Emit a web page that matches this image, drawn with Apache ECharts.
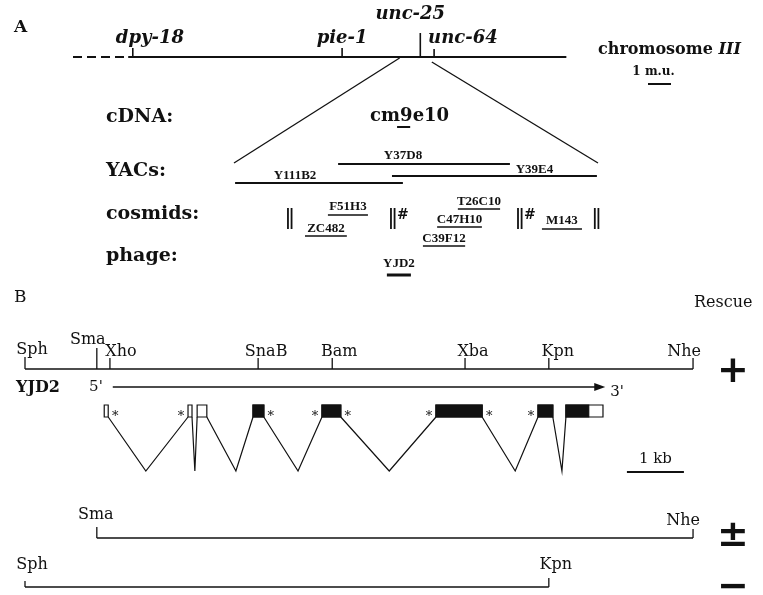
<!DOCTYPE html>
<html>
<head>
<meta charset="utf-8">
<title>unc-25 map and rescue</title>
<script src="https://cdn.jsdelivr.net/npm/echarts@6.0.0/dist/echarts.min.js"></script>
<style>
html,body{margin:0;padding:0;background:#fff;}
#chart{width:763px;height:595px;}
</style>
</head>
<body>
<div id="chart"></div>
<script>
// ================= DATA =================
// Panel A - genetic map of chromosome III (map units)
const geneNames   = ['dpy-18', 'pie-1', 'unc-25', 'unc-64'];
const genePos     = [2.6, 11.7, 15.1, 15.7];
const chromDashed = [0, 2.4];
const chromSolid  = [2.4, 21.45];
const zoomRegion  = [14.2, 15.6];
const muScaleLen  = [1];

// Panel A - physical contig (relative units 0-100 across the expanded interval)
const cdnaNames   = ['cm9e10'];
const cdnaStart   = [44.8];
const cdnaEnd     = [48.4];
const yacNames    = ['Y37D8', 'Y39E4', 'Y111B2'];
const yacStart    = [28.6, 43.4, 0.3];
const yacEnd      = [75.8, 99.7, 46.4];
const cosmidNames = ['F51H3', 'ZC482', 'T26C10', 'C47H10', 'C39F12', 'M143'];
const cosmidStart = [25.8, 19.5, 61.5, 55.8, 51.9, 84.6];
const cosmidEnd   = [36.8, 31.0, 73.1, 68.1, 63.5, 95.6];
const gapPos      = [15.4, 43.7, 78.6, 99.7];
const gapHash     = [false, true, true, false];
const phageNames  = ['YJD2'];
const phageStart  = [42.0];
const phageEnd    = [48.6];
const rowLabels   = ['cDNA:', 'YACs:', 'cosmids:', 'phage:'];

// Panel B - restriction map of phage YJD2 (kb from the Sph site)
const siteNames   = ['Sph', 'Sma', 'Xho', 'SnaB', 'Bam', 'Xba', 'Kpn', 'Nhe'];
const sitePos     = [0, 1.26, 1.49, 4.09, 5.39, 7.72, 9.19, 11.72];
const transcript  = [1.54, 10.18];
const exonStart   = [1.39, 2.86, 3.02, 4.00, 5.21, 7.21, 9.00, 9.49];
const exonEnd     = [1.46, 2.93, 3.19, 4.19, 5.54, 8.02, 9.26, 10.14];
const cdsRange    = [4.00, 9.89];
const intronApex  = [2.12, 2.98, 3.70, 4.79, 6.39, 8.60, 9.42];
const starExon    = [0, 1, 3, 4, 4, 5, 5, 6];
const starSide    = ['R', 'L', 'R', 'L', 'R', 'L', 'R', 'L'];
const kbScaleLen  = [1];
const constructFrom = ['Sph', 'Sma', 'Sph'];
const constructTo   = ['Nhe', 'Nhe', 'Kpn'];
const rescueResult  = ['+', '\u00B1', '\u2212'];

// ================= LAYOUT / STYLE =================
const INK = '#111';
const SERIF = '"DejaVu Serif", "Liberation Serif", serif';
const F = {
  panelA: 'bold 17px ' + SERIF,
  panelB: '17px ' + SERIF,
  gene:   'italic bold 18px ' + SERIF,
  row:    'bold 19px ' + SERIF,
  cdna:   'bold 18px ' + SERIF,
  small:  'bold 13px "Liberation Serif", serif',
  hash:   'bold 14px ' + SERIF,
  chrom:  'bold 16px ' + SERIF,
  chromI: 'italic bold 16px ' + SERIF,
  mu:     'bold 12px ' + SERIF,
  site:   '16px ' + SERIF,
  yjd:    'bold 16px ' + SERIF,
  prime:  '15px ' + SERIF,
  star:   '13px ' + SERIF,
  rescue: '16px ' + SERIF,
  sym:    'bold 38px "DejaVu Sans", sans-serif'
};
const L = {
  chromY: 57,
  gene: {
    'dpy-18': {top: 48, align: 'left',   dx: -17, ly: 38},
    'pie-1':  {top: 48, align: 'center', dx: 0,   ly: 38},
    'unc-25': {top: 33, align: 'center', dx: -10, ly: 14},
    'unc-64': {top: 49, align: 'left',   dx: -6,  ly: 38}
  },
  zoomTopY: [58, 62], zoomBottomY: 163,
  muBarAt: 25, muBarY: 84, muLabelY: 72, muLabelDx: -6,
  cdnaY: 127, cdnaLabelY: 116, cdnaLabelDx: 6,
  yac: {'Y37D8': [164, 156, -21], 'Y39E4': [176, 170, 40], 'Y111B2': [183, 176, -24]},
  cosmid: {F51H3: [215, 207], ZC482: [236, 229], T26C10: [209, 202], C47H10: [227, 220], C39F12: [246, 239], M143: [229, 221]},
  gapTop: 208, gapBottom: 229, hashY: 215,
  phageY: 275, phageLabelY: 264,
  rowLabelX: 106, rowLabelY: [117, 171, 214, 256],
  siteTop: {Sph: 357, Sma: 348, Xho: 358, SnaB: 358, Bam: 358, Xba: 358, Kpn: 358, Nhe: 358},
  siteLabelY: {Sph: 350, Sma: 340, Xho: 352, SnaB: 352, Bam: 352, Xba: 352, Kpn: 352, Nhe: 352},
  siteDx: {Sph: 7, Sma: -9, Xho: 11, SnaB: 8, Bam: 7, Xba: 8, Kpn: 9, Nhe: -9},
  trY: 387, yjdLabelX: 16, primeY: [387, 392],
  exonTop: 405, exonBottom: 417, apexY: 471, starY: 417, starDx: 7,
  kbBarAt: 10.56, kbBarY: 472, kbLabelY: 459,
  rescueX: 733,
  rows: [
    {lineY: 369, symY: 372},
    {lineY: 538, tickTop: [527, 529], labelY: [515, 521], labelDx: [-1, -10], symY: 536},
    {lineY: 587, tickTop: [581, 578], labelY: [565, 565], labelDx: [7, 7], symY: 588}
  ]
};

// ================= HELPERS =================
function seg(a, b, w, dash) {
  return {type: 'line', shape: {x1: a[0], y1: a[1], x2: b[0], y2: b[1]},
    style: {stroke: INK, lineWidth: w, lineDash: dash || null, fill: null}};
}
function txt(x, y, s, font, align, valign) {
  const a = align || 'center', v = valign || 'middle';
  return {type: 'text', style: {x: x, y: y, text: s, font: font, fill: INK,
    align: a, textAlign: a, verticalAlign: v, textVerticalAlign: v}};
}
function custom(g, data, render) {
  return {type: 'custom', coordinateSystem: 'cartesian2d', xAxisIndex: g, yAxisIndex: g,
    data: data, renderItem: render, silent: true, animation: false, clip: false};
}
function grp(children) { return {type: 'group', children: children}; }

// ================= SERIES =================
const series = [];

// --- chromosome line
series.push(custom(0, [[chromDashed[0], chromDashed[1], 1], [chromSolid[0], chromSolid[1], 0]], function (p, api) {
  return seg(api.coord([api.value(0), L.chromY]), api.coord([api.value(1), L.chromY]), 2, api.value(2) ? [9, 5] : null);
}));
// --- gene markers
series.push(custom(0, genePos.map(function (v, i) { return [v, i]; }), function (p, api) {
  const name = geneNames[api.value(1)], s = L.gene[name];
  const base = api.coord([api.value(0), L.chromY]);
  const top = api.coord([api.value(0), s.top]);
  const ly = api.coord([api.value(0), s.ly])[1];
  return grp([seg(top, base, 1.6), txt(base[0] + s.dx, ly, name, F.gene, s.align)]);
}));
// --- 1 m.u. scale bar
series.push(custom(0, [[L.muBarAt, L.muBarAt + muScaleLen[0]]], function (p, api) {
  const a = api.coord([api.value(0), L.muBarY]), b = api.coord([api.value(1), L.muBarY]);
  return grp([seg(a, b, 2), txt((a[0] + b[0]) / 2 + L.muLabelDx, api.coord([0, L.muLabelY])[1], muScaleLen[0] + ' m.u.', F.mu)]);
}));

// --- cDNA
series.push(custom(1, cdnaStart.map(function (v, i) { return [v, cdnaEnd[i], i]; }), function (p, api) {
  const a = api.coord([api.value(0), L.cdnaY]), b = api.coord([api.value(1), L.cdnaY]);
  return grp([seg(a, b, 2), txt((a[0] + b[0]) / 2 + L.cdnaLabelDx, api.coord([0, L.cdnaLabelY])[1], cdnaNames[api.value(2)], F.cdna)]);
}));
// --- YACs
series.push(custom(1, yacStart.map(function (v, i) { return [v, yacEnd[i], i]; }), function (p, api) {
  const name = yacNames[api.value(2)], s = L.yac[name];
  const a = api.coord([api.value(0), s[0]]), b = api.coord([api.value(1), s[0]]);
  return grp([seg(a, b, 2), txt((a[0] + b[0]) / 2 + s[2], api.coord([0, s[1]])[1], name, F.small)]);
}));
// --- cosmids
series.push(custom(1, cosmidStart.map(function (v, i) { return [v, cosmidEnd[i], i]; }), function (p, api) {
  const name = cosmidNames[api.value(2)], s = L.cosmid[name];
  const a = api.coord([api.value(0), s[0]]), b = api.coord([api.value(1), s[0]]);
  return grp([seg(a, b, 1.6), txt((a[0] + b[0]) / 2, api.coord([0, s[1]])[1], name, F.small)]);
}));
// --- contig gaps (|| and #)
series.push(custom(1, gapPos.map(function (v, i) { return [v, gapHash[i] ? 1 : 0]; }), function (p, api) {
  const t = api.coord([api.value(0), L.gapTop]), b = api.coord([api.value(0), L.gapBottom]);
  const ch = [
    {type: 'rect', shape: {x: t[0] - 3, y: t[1], width: 1.8, height: b[1] - t[1]}, style: {fill: INK}},
    {type: 'rect', shape: {x: t[0] + 0.6, y: t[1], width: 1.8, height: b[1] - t[1]}, style: {fill: INK}}
  ];
  if (api.value(1)) ch.push(txt(t[0] + 4, api.coord([0, L.hashY])[1], '#', F.hash, 'left'));
  return grp(ch);
}));
// --- phage
series.push(custom(1, phageStart.map(function (v, i) { return [v, phageEnd[i], i]; }), function (p, api) {
  const a = api.coord([api.value(0), L.phageY]), b = api.coord([api.value(1), L.phageY]);
  return grp([seg(a, b, 3), txt((a[0] + b[0]) / 2, api.coord([0, L.phageLabelY])[1], phageNames[api.value(2)], F.small)]);
}));

// --- constructs (row 0 = full YJD2 restriction map) + rescue symbols
series.push(custom(2, constructFrom.map(function (f, i) {
  return [sitePos[siteNames.indexOf(f)], sitePos[siteNames.indexOf(constructTo[i])], i];
}), function (p, api) {
  const i = api.value(2), r = L.rows[i];
  const a = api.coord([api.value(0), r.lineY]), b = api.coord([api.value(1), r.lineY]);
  const ch = [seg(a, b, 1.5)];
  if (i > 0) {
    const ta = api.coord([api.value(0), r.tickTop[0]]), tb = api.coord([api.value(1), r.tickTop[1]]);
    ch.push(seg(ta, a, 1.3), seg(tb, b, 1.3));
    ch.push(txt(a[0] + r.labelDx[0], api.coord([0, r.labelY[0]])[1], constructFrom[i], F.site));
    ch.push(txt(b[0] + r.labelDx[1], api.coord([0, r.labelY[1]])[1], constructTo[i], F.site));
  }
  ch.push(txt(L.rescueX, api.coord([0, r.symY])[1], rescueResult[i], F.sym));
  return grp(ch);
}));
// --- restriction sites
series.push(custom(2, sitePos.map(function (v, i) { return [v, i]; }), function (p, api) {
  const name = siteNames[api.value(1)];
  const base = api.coord([api.value(0), L.rows[0].lineY]);
  const top = api.coord([api.value(0), L.siteTop[name]]);
  return grp([seg(top, base, 1.3), txt(base[0] + L.siteDx[name], api.coord([0, L.siteLabelY[name]])[1], name, F.site)]);
}));
// --- transcript arrow 5' -> 3'
series.push(custom(2, [[transcript[0], transcript[1]]], function (p, api) {
  const a = api.coord([api.value(0), L.trY]), b = api.coord([api.value(1), L.trY]);
  return grp([
    seg(a, [b[0] - 8, b[1]], 1.5),
    {type: 'polygon', shape: {points: [[b[0] - 11, b[1] - 4], [b[0], b[1]], [b[0] - 11, b[1] + 4]]}, style: {fill: INK}},
    txt(a[0] - 10, api.coord([0, L.primeY[0]])[1], "5'", F.prime, 'right'),
    txt(b[0] + 5, api.coord([0, L.primeY[1]])[1], "3'", F.prime, 'left'),
    txt(L.yjdLabelX, a[1] + 1, phageNames[0], F.yjd, 'left')
  ]);
}));
// --- introns
series.push(custom(2, intronApex.map(function (v, i) { return [exonEnd[i], v, exonStart[i + 1]]; }), function (p, api) {
  const a = api.coord([api.value(0), L.exonBottom]);
  const m = api.coord([api.value(1), L.apexY]);
  const b = api.coord([api.value(2), L.exonBottom]);
  return {type: 'polyline', shape: {points: [a, m, b]}, style: {stroke: INK, lineWidth: 1.2, fill: null}};
}));
// --- exons (filled = coding)
series.push(custom(2, exonStart.map(function (v, i) { return [v, exonEnd[i]]; }), function (p, api) {
  const s = api.value(0), e = api.value(1);
  const a = api.coord([s, L.exonTop]), b = api.coord([e, L.exonBottom]);
  const ch = [{type: 'rect', shape: {x: a[0], y: a[1], width: b[0] - a[0], height: b[1] - a[1]},
    style: {fill: '#fff', stroke: INK, lineWidth: 1.2}}];
  const cs = Math.max(s, cdsRange[0]), ce = Math.min(e, cdsRange[1]);
  if (ce > cs) {
    const ca = api.coord([cs, L.exonTop]), cb = api.coord([ce, L.exonBottom]);
    ch.push({type: 'rect', shape: {x: ca[0], y: ca[1], width: cb[0] - ca[0], height: cb[1] - ca[1]},
      style: {fill: INK, stroke: INK, lineWidth: 1.2}});
  }
  return grp(ch);
}));
// --- splice-site asterisks
series.push(custom(2, starExon.map(function (ei, i) {
  return [starSide[i] === 'R' ? exonEnd[ei] : exonStart[ei], starSide[i] === 'R' ? 1 : -1];
}), function (p, api) {
  const c = api.coord([api.value(0), L.starY]);
  return txt(c[0] + api.value(1) * L.starDx, c[1], '*', F.star);
}));
// --- 1 kb scale bar
series.push(custom(2, [[L.kbBarAt, L.kbBarAt + kbScaleLen[0]]], function (p, api) {
  const a = api.coord([api.value(0), L.kbBarY]), b = api.coord([api.value(1), L.kbBarY]);
  return grp([seg(a, b, 2), txt((a[0] + b[0]) / 2, api.coord([0, L.kbLabelY])[1], kbScaleLen[0] + ' kb', F.prime)]);
}));

// ================= STATIC TEXT =================
const graphic = [
  {type: 'text', style: {x: 14, y: 28, text: 'A', font: F.panelA, fill: INK, textVerticalAlign: 'middle', verticalAlign: 'middle'}},
  {type: 'text', style: {x: 14, y: 298, text: 'B', font: F.panelB, fill: INK, textVerticalAlign: 'middle', verticalAlign: 'middle'}},
  {type: 'text', style: {x: 694, y: 303, text: 'Rescue', font: F.rescue, fill: INK, textVerticalAlign: 'middle', verticalAlign: 'middle'}},
  {type: 'text', style: {x: 598, y: 50, text: '{a|chromosome }{b|III}', fill: INK, textVerticalAlign: 'middle', verticalAlign: 'middle',
    rich: {a: {font: F.chrom, fill: INK}, b: {font: F.chromI, fill: INK}}}}
];
rowLabels.forEach(function (t, i) {
  graphic.push({type: 'text', style: {x: L.rowLabelX, y: L.rowLabelY[i], text: t, font: F.row, fill: INK,
    textVerticalAlign: 'middle', verticalAlign: 'middle'}});
});

// ================= CHART =================
const gridBox = [
  {left: 73, top: 0, width: 690, height: 595},
  {left: 234, top: 0, width: 364, height: 595},
  {left: 25, top: 0, width: 684, height: 595}
];
const xRange = [[0, 30], [0, 100], [0, 12]];
const chart = echarts.init(document.getElementById('chart'), null, {renderer: 'canvas'});
chart.setOption({
  animation: false,
  backgroundColor: '#fff',
  grid: gridBox.map(function (g) { return Object.assign({containLabel: false, show: false}, g); }),
  xAxis: xRange.map(function (r, i) { return {gridIndex: i, type: 'value', min: r[0], max: r[1], show: false}; }),
  yAxis: xRange.map(function (r, i) { return {gridIndex: i, type: 'value', min: 0, max: 595, inverse: true, show: false}; }),
  series: series,
  graphic: graphic
});

// zoom lines from the genetic map to the contig
const zl0 = chart.convertToPixel({xAxisIndex: 0, yAxisIndex: 0}, [zoomRegion[0], L.zoomTopY[0]]);
const zl1 = chart.convertToPixel({xAxisIndex: 0, yAxisIndex: 0}, [zoomRegion[1], L.zoomTopY[1]]);
const zb0 = chart.convertToPixel({xAxisIndex: 1, yAxisIndex: 1}, [0, L.zoomBottomY]);
const zb1 = chart.convertToPixel({xAxisIndex: 1, yAxisIndex: 1}, [100, L.zoomBottomY]);
graphic.push(
  {type: 'line', shape: {x1: zl0[0], y1: zl0[1], x2: zb0[0], y2: zb0[1]}, style: {stroke: INK, lineWidth: 1.3}},
  {type: 'line', shape: {x1: zl1[0], y1: zl1[1], x2: zb1[0], y2: zb1[1]}, style: {stroke: INK, lineWidth: 1.3}}
);
chart.setOption({graphic: graphic});
</script>
</body>
</html>
